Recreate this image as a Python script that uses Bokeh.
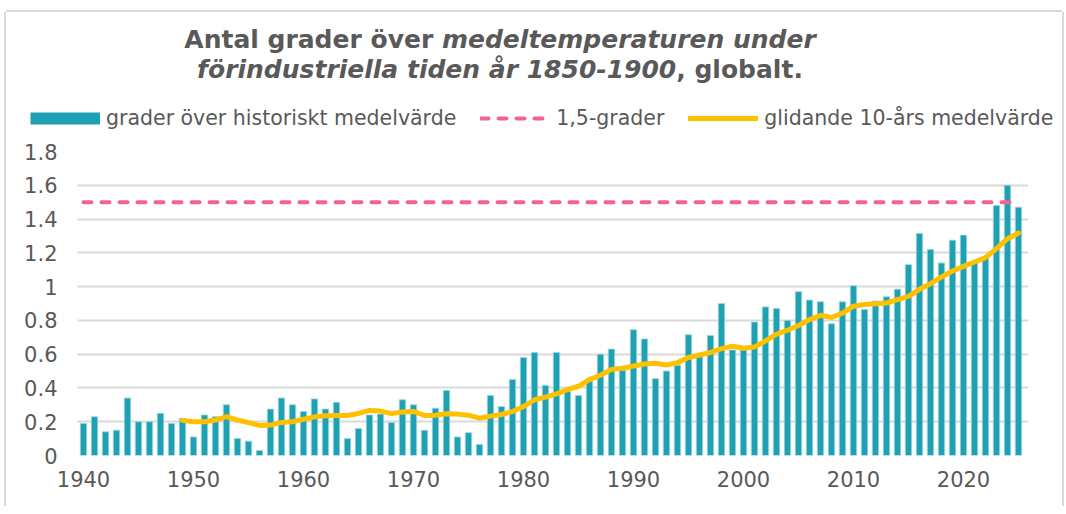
from bokeh.plotting import figure
from bokeh.layouts import column, row
from bokeh.models import (ColumnDataSource, Range1d, FixedTicker, Legend,
                          LegendItem, Div)
from bokeh.embed import file_html
from bokeh.resources import INLINE

# ---------------- data ----------------
years = list(range(1940, 2026))
anomaly = [
    0.19, 0.23, 0.14, 0.15, 0.34, 0.20, 0.20, 0.25, 0.19, 0.22,      # 1940s
    0.11, 0.24, 0.23, 0.30, 0.10, 0.085, 0.03, 0.275, 0.34, 0.30,    # 1950s
    0.26, 0.335, 0.275, 0.315, 0.10, 0.16, 0.24, 0.245, 0.195, 0.33,  # 1960s
    0.30, 0.15, 0.28, 0.385, 0.11, 0.135, 0.065, 0.355, 0.29, 0.45,  # 1970s
    0.58, 0.61, 0.415, 0.61, 0.38, 0.355, 0.44, 0.60, 0.63, 0.505,   # 1980s
    0.745, 0.69, 0.455, 0.50, 0.535, 0.715, 0.585, 0.71, 0.90, 0.625,  # 1990s
    0.625, 0.79, 0.88, 0.87, 0.80, 0.97, 0.92, 0.91, 0.78, 0.91,     # 2000s
    1.005, 0.865, 0.915, 0.94, 0.985, 1.13, 1.315, 1.22, 1.14, 1.275,  # 2010s
    1.305, 1.15, 1.17, 1.48, 1.60, 1.47,                               # 2020s
]
ma_years = list(range(1949, 2026))
moving_avg = [
    0.208,
    0.20, 0.20, 0.21, 0.23, 0.21, 0.195, 0.178, 0.18, 0.196, 0.20,
    0.215, 0.229, 0.235, 0.237, 0.237, 0.249, 0.267, 0.263, 0.248, 0.257,
    0.261, 0.237, 0.239, 0.247, 0.245, 0.239, 0.221, 0.233, 0.243, 0.26,
    0.29, 0.33, 0.346, 0.365, 0.39, 0.41, 0.45, 0.475, 0.51, 0.516,
    0.53, 0.542, 0.546, 0.536, 0.55, 0.58, 0.595, 0.61, 0.633, 0.647,
    0.635, 0.643, 0.678, 0.718, 0.742, 0.77, 0.805, 0.83, 0.817, 0.843,
    0.884, 0.894, 0.898, 0.903, 0.923, 0.942, 0.984, 1.017, 1.057, 1.092,
    1.12, 1.146, 1.172, 1.225, 1.284, 1.317,
]
threshold = 1.5

x_ticks = [1940, 1950, 1960, 1970, 1980, 1990, 2000, 2010, 2020]
y_ticks = [0, 0.2, 0.4, 0.6, 0.8, 1, 1.2, 1.4, 1.6, 1.8]
y_tick_labels = ["0", "0.2", "0.4", "0.6", "0.8", "1", "1.2", "1.4", "1.6", "1.8"]

legend_labels = ["grader över historiskt medelvärde", "1,5-grader",
                 "glidande 10-års medelvärde"]
title_line1 = ("Antal grader över ", "medeltemperaturen under")
title_line2 = ("förindustriella tiden år 1850-1900", ", globalt.")

# ---------------- style ----------------
TEAL = "#1FA1B4"
PINK = "#EF6494"
GOLD = "#FFC000"
TEXT = "#595959"
GRID = "#D9D9D9"
FONT = "DejaVu Sans"

# page-pixel geometry
CX, CY = 6, 12            # top-left of the chart box on the page
BOX_R = 1062              # right edge of the chart box
W = BOX_R - CX
DIV_BOT = 85              # title block ends here
LEG_BOT = 135             # legend strip ends here
FIG_BOT = 506
FL, FR, FT, FB = 77, 1028, 151, 455   # plot frame
X0 = 1940 - 6 / 11
X1 = X0 + (FR - FL) / 11

# ---- title block ----
div = Div(
    text=('<div style="width:988px;text-align:center;font-family:\'DejaVu Sans\';'
          'font-weight:bold;font-size:25px;line-height:30px;color:%s;'
          'padding-top:13px;white-space:nowrap;">%s<i>%s</i><br><i>%s</i>%s</div>'
          % (TEXT, title_line1[0], title_line1[1], title_line2[0], title_line2[1])),
    width=W, height=DIV_BOT - CY, margin=0)

# ---- legend strip (own figure, full-width frame) ----
leg_h = LEG_BOT - DIV_BOT
pl = figure(width=W, height=leg_h, title=None, output_backend="svg",
            toolbar_location=None, x_axis_type=None, y_axis_type=None,
            x_range=Range1d(0, W), y_range=Range1d(0, leg_h),
            min_border=0, min_border_left=0, min_border_right=0,
            min_border_top=0, min_border_bottom=0, margin=0)
pl.outline_line_color = None
pl.xgrid.visible = False
pl.ygrid.visible = False
proxy = dict(x=[-10], y=[-10])   # off-screen single point: nothing drawn in the strip
r_bar = pl.line(x="x", y="y", source=ColumnDataSource(data=dict(proxy)),
                line_color=TEAL, line_width=12, line_cap="butt")
r_lim = pl.line(x="x", y="y", source=ColumnDataSource(data=dict(proxy)),
                line_color=PINK, line_width=4, line_dash="8 10", line_cap="round")
r_ma = pl.line(x="x", y="y", source=ColumnDataSource(data=dict(proxy)),
               line_color=GOLD, line_width=5, line_cap="round")
legend = Legend(items=[LegendItem(label=legend_labels[0], renderers=[r_bar]),
                       LegendItem(label=legend_labels[1], renderers=[r_lim]),
                       LegendItem(label=legend_labels[2], renderers=[r_ma])],
                orientation="horizontal", location=(30 - CX, LEG_BOT - 130),
                glyph_width=70, glyph_height=24, label_height=24,
                label_standoff=6, spacing=24, padding=0, margin=0,
                border_line_color=None, background_fill_alpha=0,
                label_text_font=FONT, label_text_font_size="20.5px",
                label_text_color=TEXT)
pl.add_layout(legend)

# ---- chart ----
p = figure(width=W, height=FIG_BOT - LEG_BOT, title=None,
           output_backend="svg", toolbar_location=None,
           x_range=Range1d(X0, X1), y_range=Range1d(0, 1.8),
           min_border_left=FL - CX, min_border_right=BOX_R - FR,
           min_border_top=FT - LEG_BOT, min_border_bottom=FIG_BOT - FB,
           margin=0)
p.outline_line_color = None

src = ColumnDataSource(data=dict(year=years, anomaly=anomaly))
ma_src = ColumnDataSource(data=dict(year=ma_years, ma=moving_avg))

p.vbar(x="year", top="anomaly", width=0.58, source=src, fill_color=TEAL,
       line_color="#9ED6DE", line_width=0.8)
p.line(x="year", y="ma", source=ma_src, line_color=GOLD, line_width=5,
       line_join="round", line_cap="round")
p.line(x=[years[0], years[-1]], y=[threshold, threshold], line_color=PINK,
       line_width=4, line_dash="8 10", line_cap="round")

p.xaxis.ticker = FixedTicker(ticks=x_ticks)
p.yaxis.ticker = FixedTicker(ticks=y_ticks)
p.yaxis.major_label_overrides = {t: l for t, l in zip(y_ticks, y_tick_labels)}
for ax in (p.xaxis[0], p.yaxis[0]):
    ax.axis_line_color = None
    ax.major_tick_line_color = None
    ax.minor_tick_line_color = None
    ax.major_tick_out = 0
    ax.major_tick_in = 0
    ax.major_label_text_font = FONT
    ax.major_label_text_font_size = "21px"
    ax.major_label_text_color = TEXT
p.yaxis.major_label_standoff = 20
p.xaxis.major_label_standoff = 15
p.xgrid.visible = False
p.ygrid.grid_line_color = GRID
p.ygrid.grid_line_width = 2

layout = column(div, row(pl, margin=0, spacing=0), p, spacing=0,
                styles={"margin-left": "%dpx" % CX, "margin-top": "%dpx" % CY,
                        "box-shadow": "-2px 0 0 0 #D9D9D9, 2px 0 0 0 #D9D9D9, "
                                      "0 -2px 0 0 #D9D9D9",
                        "background": "white"})

open("out.html", "w").write(file_html(layout, INLINE))
